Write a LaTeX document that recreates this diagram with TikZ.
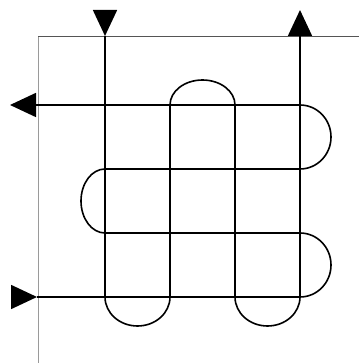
\documentclass[tikz,border=0pt]{standalone}
\usetikzlibrary{arrows.meta}
\definecolor{frl}{HTML}{9A9A9A}
\definecolor{frt}{HTML}{555555}
\tikzset{
  strand/.style={line width=1.6pt, black},
  tri/.style={-{Triangle[length=26pt,width=24pt]}, line width=1.6pt, black},
  frm/.style={line width=1pt, frl}
}

\begin{document}
\begin{tikzpicture}[x=1pt, y=1pt]
\useasboundingbox (0,0) rectangle (359,363);

% frame
\coordinate (corner) at (38,326);
\coordinate (frx) at (359,326);
\coordinate (fry) at (38,0);
\draw[frm] (fry) -- (corner);
\draw[frm, frt] (corner) -- (frx);

% grid points
\foreach \i/\x in {1/105,2/170,3/235,4/300}
  \foreach \j/\y in {1/66,2/130,3/194,4/258}
    \coordinate (p\i\j) at (\x,\y);

% ends of the strands
\coordinate (hinT) at (11,66);
\coordinate (hin) at (37,66);
\coordinate (hout) at (10,258);
\coordinate (vinT) at (105,352);
\coordinate (vin) at (105,327);
\coordinate (vout) at (300,353);

% horizontal strand
\draw[tri] (hinT) -- (hin);
\draw[strand, tri] (hin) -- (p41)
  arc[start angle=-90, end angle=90, x radius=31, y radius=32] -- (p12)
  arc[start angle=270, end angle=90, x radius=24, y radius=32] -- (p43)
  arc[start angle=-90, end angle=90, x radius=31, y radius=32] -- (hout);

% vertical strand
\draw[tri] (vinT) -- (vin);
\draw[strand, tri] (vin) -- (p11)
  arc[start angle=180, end angle=360, x radius=32.5, y radius=29] -- (p24)
  arc[start angle=180, end angle=0, x radius=32.5, y radius=25] -- (p31)
  arc[start angle=180, end angle=360, x radius=32.5, y radius=29] -- (vout);

\end{tikzpicture}
\end{document}
